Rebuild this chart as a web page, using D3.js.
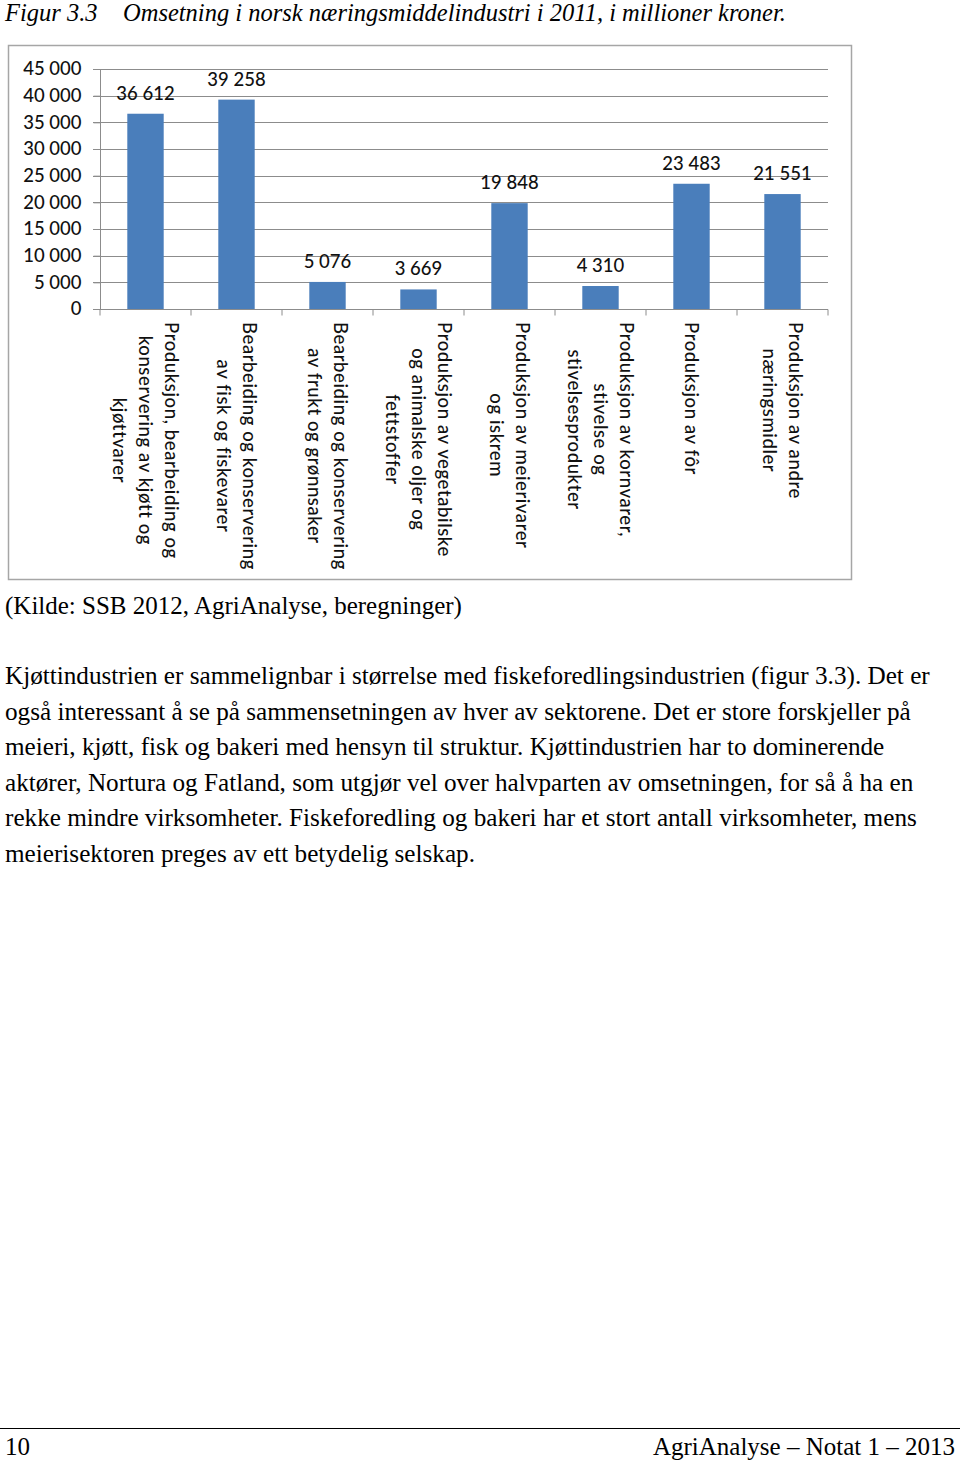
<!DOCTYPE html>
<html><head><meta charset="utf-8">
<script src="https://cdn.jsdelivr.net/npm/d3@7"></script>
<style>
body{margin:0;background:#fff;}
svg{display:block;}
</style></head>
<body>
<svg id="c" width="960" height="1460"></svg>
<script>
const categories = [
  ["Produksjon, bearbeiding og","konservering av kjøtt og","kjøttvarer"],
  ["Bearbeiding og konservering","av fisk og fiskevarer"],
  ["Bearbeiding og konservering","av frukt og grønnsaker"],
  ["Produksjon av vegetabilske","og animalske oljer og","fettstoffer"],
  ["Produksjon av meierivarer","og iskrem"],
  ["Produksjon av kornvarer,","stivelse og","stivelsesprodukter"],
  ["Produksjon av fôr"],
  ["Produksjon av andre","næringsmidler"]
];
const values = [36612, 39258, 5076, 3669, 19848, 4310, 23483, 21551];
const yTicks = [0,5000,10000,15000,20000,25000,30000,35000,40000,45000];
const titleNum = "Figur 3.3";
const titleText = "Omsetning i norsk næringsmiddelindustri i 2011, i millioner kroner.";
const sourceText = "(Kilde: SSB 2012, AgriAnalyse, beregninger)";
const paragraph = [
  "Kjøttindustrien er sammelignbar i størrelse med fiskeforedlingsindustrien (figur 3.3). Det er",
  "også interessant å se på sammensetningen av hver av sektorene. Det er store forskjeller på",
  "meieri, kjøtt, fisk og bakeri med hensyn til struktur. Kjøttindustrien har to dominerende",
  "aktører, Nortura og Fatland, som utgjør vel over halvparten av omsetningen, for så å ha en",
  "rekke mindre virksomheter. Fiskeforedling og bakeri har et stort antall virksomheter, mens",
  "meierisektoren preges av ett betydelig selskap."
];
const footerLeft = "10";
const footerRight = "AgriAnalyse – Notat 1 – 2013";

const fmtT = v => d3.format(",")(v).replace(/,/g, " ");

const svg = d3.select("#c");
const serif = "'Liberation Serif','Times New Roman',serif";
const sans = "Lato, 'Open Sans', sans-serif";

// Title
const t = svg.append("text").attr("y", 21).attr("font-family", serif)
  .attr("font-style","italic").attr("font-size", 24.5).attr("fill","#000");
t.append("tspan").attr("x", 5).text(titleNum);
t.append("tspan").attr("x", 123).text(titleText);

// Frame
svg.append("rect").attr("x", 8.5).attr("y", 45.5).attr("width", 843).attr("height", 534)
  .attr("fill","#fff").attr("stroke","#a6a6a6").attr("stroke-width",1.5);

const x = d3.scaleBand().domain(d3.range(categories.length)).range([100, 828])
  .paddingInner(0.6).paddingOuter(0.3);
const y = d3.scaleLinear().domain([0, 45000]).range([309, 69]);

const g = svg.append("g");
// gridlines
g.selectAll("line.grid").data(yTicks.filter(d=>d>0)).join("line")
  .attr("x1", 93).attr("x2", 828)
  .attr("y1", d=>Math.round(y(d))+0.5).attr("y2", d=>Math.round(y(d))+0.5)
  .attr("stroke","#8c8c8c").attr("stroke-width",1);

// y axis
const ya = g.append("g").attr("transform","translate(100.5,0)")
  .call(d3.axisLeft(y).tickValues(yTicks).tickFormat(fmtT).tickSize(7).tickPadding(12));
ya.select(".domain").attr("stroke","#8c8c8c").attr("d","M0,69V309");
ya.selectAll(".tick line").attr("stroke","#8c8c8c");
ya.selectAll(".tick text").attr("font-family", sans).attr("font-size", 18.5)
  .attr("fill","#111").attr("font-weight",500);

// x axis
const xa = g.append("g").attr("transform","translate(0,309.5)");
xa.append("line").attr("x1",93).attr("x2",828).attr("stroke","#8c8c8c");
const bounds = d3.range(categories.length+1).map(i => 100 + i*x.step());
xa.selectAll("line.t").data(bounds).join("line").attr("class","t")
  .attr("x1",d=>d).attr("x2",d=>d).attr("y1",0).attr("y2",6).attr("stroke","#8c8c8c");

// bars
g.selectAll("rect.bar").data(values).join("rect").attr("class","bar")
  .attr("x",(d,i)=>x(i)).attr("width",x.bandwidth())
  .attr("y",d=>y(d)).attr("height",d=>y(0)-y(d))
  .attr("fill","#4a7ebb");

// value labels
g.selectAll("text.val").data(values).join("text").attr("class","val")
  .attr("x",(d,i)=>x(i)+x.bandwidth()/2).attr("y",d=>y(d)-14)
  .attr("text-anchor","middle").attr("font-family",sans).attr("font-size",18.5)
  .attr("font-weight",500).attr("fill","#111").text(fmtT);

// category labels rotated 90deg clockwise
categories.forEach((lines, i) => {
  const cx = x(i) + x.bandwidth()/2;
  const lg = g.append("g");
  const lineH = 26;
  const n = lines.length;
  const texts = lines.map((s, k) => {
    const off = ((n-1)/2 - k) * lineH;
    return lg.append("text").attr("font-family",sans).attr("font-size",18.5)
      .attr("letter-spacing",0.6)
      .attr("font-weight",500).attr("fill","#111").attr("text-anchor","middle")
      .attr("dominant-baseline","central").text(s).datum(off);
  });
  const maxLen = d3.max(texts, tx => tx.node().getComputedTextLength());
  const cy = 322 + maxLen/2;
  texts.forEach(tx => {
    const off = tx.datum();
    tx.attr("transform", `translate(${cx+off},${cy}) rotate(90)`);
  });
});

// Source
svg.append("text").attr("x",5).attr("y",614).attr("font-family",serif).attr("font-size",25)
  .attr("fill","#000").text(sourceText);

// Paragraph
svg.selectAll("text.p").data(paragraph).join("text").attr("class","p")
  .attr("x",5).attr("y",(d,i)=>684 + i*35.5).attr("font-family",serif).attr("font-size",25.2)
  .attr("fill","#000").text(d=>d);

// Footer
svg.append("line").attr("x1",0).attr("x2",960).attr("y1",1428.5).attr("y2",1428.5)
  .attr("stroke","#000").attr("stroke-width",1);
svg.append("text").attr("x",5).attr("y",1455).attr("font-family",serif).attr("font-size",25)
  .attr("fill","#000").text(footerLeft);
svg.append("text").attr("x",955).attr("y",1455).attr("text-anchor","end").attr("font-family",serif)
  .attr("font-size",25).attr("fill","#000").text(footerRight);
</script>
</body></html>
